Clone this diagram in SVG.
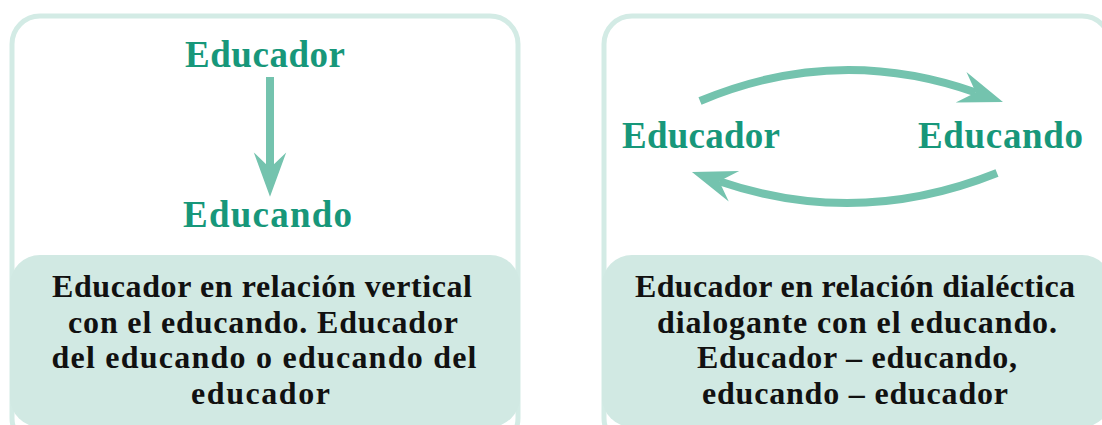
<svg xmlns="http://www.w3.org/2000/svg" width="1102" height="425" viewBox="0 0 1102 425">
<style>
.frame{fill:#ffffff;stroke:#d3ebe5;stroke-width:5}
.band{fill:#d1e9e3}
.head{font-family:"Liberation Serif","Times New Roman",serif;font-weight:bold;font-size:37px;fill:#17977a;text-anchor:middle}
.body{font-family:"Liberation Serif","Times New Roman",serif;font-weight:bold;font-size:32px;fill:#111111;text-anchor:middle}
.conn{fill:none;stroke:#74c3ae;stroke-width:8}
</style>
<defs>
<marker id="ah" markerUnits="userSpaceOnUse" orient="auto" refX="0" refY="0" markerWidth="60" markerHeight="60" viewBox="-20 -20 50 40" overflow="visible">
<path d="M24,0 L-13,-13.5 L0,0 L-13,13.5 Z" fill="#74c3ae"/>
</marker>
</defs>
<g id="panel-left">
<rect class="frame" x="12" y="16" width="506" height="430" rx="28"/>
<rect class="band" x="10" y="255" width="510" height="172" rx="30"/>
</g>
<g id="panel-right">
<rect class="frame" x="604" y="16" width="506" height="430" rx="28"/>
<rect class="band" x="602" y="255" width="510" height="172" rx="30"/>
</g>
<g id="node-left-educador"><text class="head" x="265" y="67" textLength="160" lengthAdjust="spacing">Educador</text></g>
<g id="node-left-educando"><text class="head" x="267.5" y="227" textLength="169" lengthAdjust="spacing">Educando</text></g>
<g id="node-right-educador"><text class="head" x="701" y="148" textLength="158" lengthAdjust="spacing">Educador</text></g>
<g id="node-right-educando"><text class="head" x="1000.5" y="148" textLength="165" lengthAdjust="spacing">Educando</text></g>
<g id="connectors">
<path class="conn" d="M270,77 L270,168" marker-end="url(#ah)"/>
<path class="conn" d="M700,101 Q836.9,43.6 975.8,92.5" marker-end="url(#ah)"/>
<path class="conn" d="M997,173 Q858.1,228.6 719.2,181.2" marker-end="url(#ah)"/>
</g>
<g id="caption-left">
<text class="body" x="262" y="297" textLength="420" lengthAdjust="spacing">Educador en relación vertical</text>
<text class="body" x="263" y="332.5" textLength="390" lengthAdjust="spacing">con el educando. Educador</text>
<text class="body" x="264" y="368" textLength="425" lengthAdjust="spacing">del educando o educando del</text>
<text class="body" x="260.5" y="403.5" textLength="139" lengthAdjust="spacing">educador</text>
</g>
<g id="caption-right">
<text class="body" x="855" y="297" textLength="440" lengthAdjust="spacing">Educador en relación dialéctica</text>
<text class="body" x="857" y="332.5" textLength="400" lengthAdjust="spacing">dialogante con el educando.</text>
<text class="body" x="857" y="368" textLength="320" lengthAdjust="spacing">Educador – educando,</text>
<text class="body" x="855" y="403.5" textLength="306" lengthAdjust="spacing">educando – educador</text>
</g>
</svg>
